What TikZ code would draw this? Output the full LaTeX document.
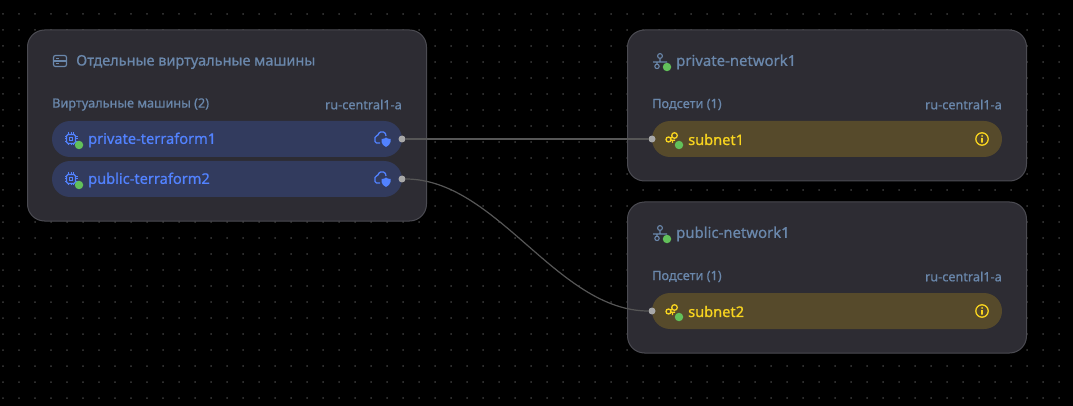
\documentclass[tikz,border=0pt]{standalone}
\usepackage{fontspec}
\setmainfont{Noto Sans}
\newfontfamily\medfont[FakeBold=0.7]{Noto Sans}
\definecolor{bgcol}{HTML}{000000}
\definecolor{dotcol}{HTML}{3C3C3C}
\definecolor{panelcol}{HTML}{2D2C33}
\definecolor{edgecol}{HTML}{4B4B52}
\definecolor{bluepill}{HTML}{323B5E}
\definecolor{bluetext}{HTML}{5282FF}
\definecolor{yellowpill}{HTML}{564A2B}
\definecolor{yellowtext}{HTML}{F8D41F}
\definecolor{greytext}{HTML}{6A87AB}
\definecolor{okcol}{HTML}{62C05A}
\definecolor{wirecol}{HTML}{565656}
\definecolor{portcol}{HTML}{A8A8A8}
\tikzset{
  panel/.style={draw=edgecol,fill=panelcol,line width=1pt,rounded corners=17pt,minimum width=399pt,inner sep=0pt,outer sep=0pt},
  pill/.style={rounded corners=18pt,minimum width=350pt,minimum height=36pt,inner sep=0pt,outer sep=0pt},
  vmpill/.style={pill,fill=bluepill},
  subpill/.style={pill,fill=yellowpill},
  title/.style={anchor=west,inner sep=0pt,text=greytext,font=\medfont\fontsize{14.5}{16}\selectfont},
  nettitle/.style={anchor=west,inner sep=0pt,text=greytext,font=\medfont\fontsize{14.9}{16}\selectfont},
  small/.style={inner sep=0pt,text=greytext,font=\medfont\fontsize{12.7}{14}\selectfont},
  vmname/.style={anchor=west,inner sep=0pt,text=bluetext,font=\medfont\fontsize{14.6}{16}\selectfont},
  subname/.style={anchor=west,inner sep=0pt,text=yellowtext,font=\medfont\fontsize{14.6}{16}\selectfont},
  port/.style={circle,fill=portcol,minimum size=7pt,inner sep=0pt,outer sep=0pt},
  wire/.style={draw=wirecol,line width=1.2pt},
  status/.style={circle,fill=okcol,minimum size=8.5pt,inner sep=0pt},
  vmicon/.pic={
    \draw[bluetext,line width=1.2pt,rounded corners=1.5pt] (-4.5,-4.5) rectangle (4.5,4.5);
    \draw[bluetext,line width=1.1pt] (-1.5,-1.5) rectangle (1.5,1.5);
    \foreach \t in {-2.5,0,2.5} {
      \draw[bluetext,line width=1pt] (\t,-4.5) -- (\t,-6.5) (\t,4.5) -- (\t,6.5) (-4.5,\t) -- (-6.5,\t) (4.5,\t) -- (6.5,\t);
    }
  },
  neticon/.pic={
    \draw[greytext,line width=1.1pt] (0,-5) circle (2.4) (0,-2.6) -- (0,1) (-7,1) -- (7,1) (-3,1) -- (-3,3.2);
    \draw[greytext,line width=1.1pt] (-3,5.4) circle (2.2);
  },
  listicon/.pic={
    \draw[greytext,line width=1.2pt,rounded corners=2pt] (-6.5,-5.5) rectangle (6.5,5.5);
    \draw[greytext,line width=1.2pt] (-6.5,0) -- (6.5,0) (-4,-2.7) -- (-1,-2.7) (-4,2.7) -- (-1,2.7);
  },
  subicon/.pic={
    \draw[yellowtext,line width=1.3pt] (-3.5,0.5) circle (2.5) (2.5,-3.5) circle (2.8) (-1.3,-0.8) -- (0.3,-2) (-1,1.2) -- (3,1.2) (0.5,1.2) -- (0.5,4);
  },
  shieldicon/.pic={
    \draw[bluetext,line width=1.3pt,rounded corners=1.5pt] (-2,4) -- (-7,4) -- (-7,-3) -- (-4,-3) -- (-3,-7) -- (3,-7) -- (4,-3);
    \fill[bluetext] (-0.5,0) .. controls (1.5,0) and (3,-0.5) .. (4,-1.5) .. controls (5,-0.5) and (6.5,0) .. (8.5,0) -- (8.5,3) .. controls (8.5,5) and (6,7) .. (4,8) .. controls (2,7) and (-0.5,5) .. (-0.5,3) -- cycle;
  },
  infoicon/.pic={
    \draw[yellowtext,line width=1.3pt] (0,0) circle (6.2);
    \fill[yellowtext] (-0.8,-1) rectangle (0.8,3.6) (0,-3) circle (1);
  },
}
\begin{document}
\begin{tikzpicture}[x=1pt,y=-1pt]
\useasboundingbox[fill=bgcol] (0,0) rectangle (1073,406);
% grid of dots
\foreach \i in {0,...,66} {
  \foreach \j in {0,...,24} {
    \fill[dotcol] ({3+16*\i},{14+16*\j}) circle (1);
  }
}

% panels
\node[panel,minimum height=191pt] (vmpanel) at (227,125.5) {};
\node[panel,minimum height=151pt] (privnet) at (827,105.5) {};
\node[panel,minimum height=151pt] (pubnet) at (827,277.5) {};

% pills
\node[vmpill] (vm1) at (227,139) {};
\node[vmpill] (vm2) at (227,179) {};
\node[subpill] (sub1) at (827,139) {};
\node[subpill] (sub2) at (827,311) {};

% ports
\node[port] (vm1port) at (vm1.east) {};
\node[port] (vm2port) at (vm2.east) {};
\node[port] (sub1port) at (sub1.west) {};
\node[port] (sub2port) at (sub2.west) {};

% wires
\draw[wire] (vm1port) -- (sub1port);
\draw[wire] (vm2port) .. controls (497,179) and (557,311) .. (sub2port);

% left panel
\pic at (60,61) {listicon};
\node[title] (vmtitle) at (76,62) {Отдельные виртуальные машины};
\node[small,anchor=west] (vmcount) at (52,104.5) {Виртуальные машины (2)};
\node[small,anchor=east] (vmzone) at (402,104.5) {ru-central1-a};
\pic at (71,139) {vmicon};
\node[status] (vm1ok) at (79,145) {};
\node[vmname] (vm1name) at (88,140) {private-terraform1};
\pic at (382,139) {shieldicon};
\pic at (71,179) {vmicon};
\node[status] (vm2ok) at (79,185) {};
\node[vmname] (vm2name) at (88,180) {public-terraform2};
\pic at (382,179) {shieldicon};

% private network
\pic at (660,61) {neticon};
\node[status] (net1ok) at (667,67) {};
\node[nettitle] (net1title) at (676,62) {private-network1};
\node[small,anchor=west] (net1count) at (652,104.5) {Подсети (1)};
\node[small,anchor=east] (net1zone) at (1002,104.5) {ru-central1-a};
\pic at (672,139) {subicon};
\node[status] (sub1ok) at (679,145) {};
\node[subname] (sub1name) at (688,139.5) {subnet1};
\pic at (982,139) {infoicon};

% public network
\pic at (660,233) {neticon};
\node[status] (net2ok) at (667,239) {};
\node[nettitle] (net2title) at (676,234) {public-network1};
\node[small,anchor=west] (net2count) at (652,276.5) {Подсети (1)};
\node[small,anchor=east] (net2zone) at (1002,276.5) {ru-central1-a};
\pic at (672,311) {subicon};
\node[status] (sub2ok) at (679,317) {};
\node[subname] (sub2name) at (688,311.5) {subnet2};
\pic at (982,311) {infoicon};
\end{tikzpicture}
\end{document}
